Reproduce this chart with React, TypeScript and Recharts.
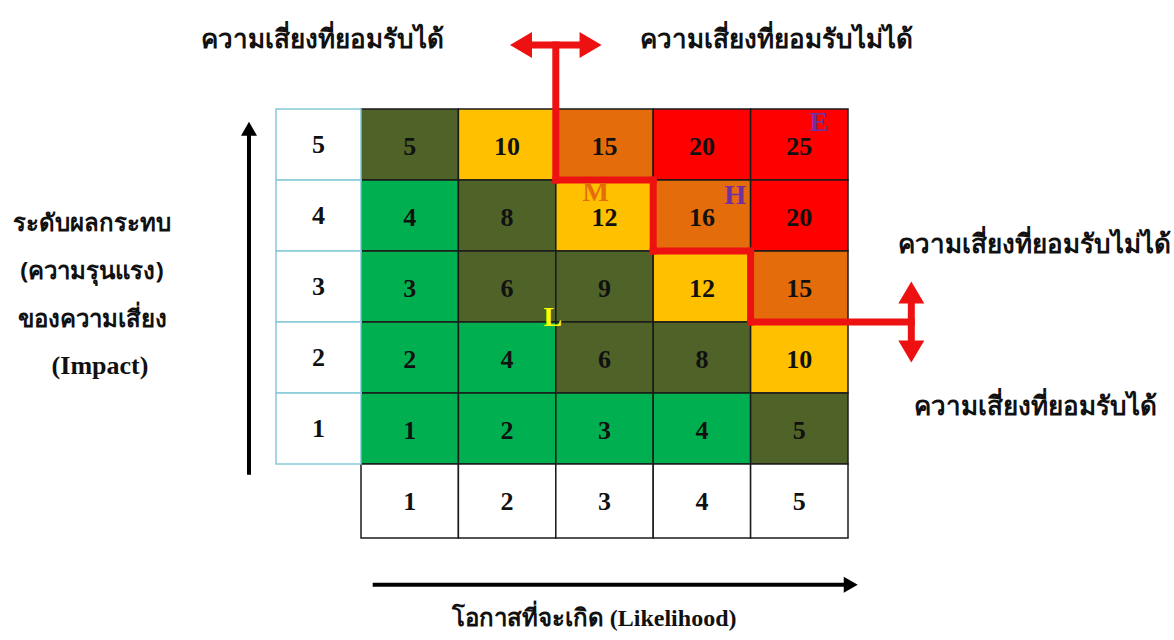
import React from "react";
import {
  ScatterChart,
  Scatter,
  XAxis,
  YAxis,
  ReferenceLine,
  ReferenceDot,
} from "recharts";

// axes of the matrix
const likelihood = [1, 2, 3, 4, 5];
const impact = [5, 4, 3, 2, 1];

// risk score per cell, one row per impact level (likelihood 1..5)
const scoreImpact5 = [5, 10, 15, 20, 25];
const scoreImpact4 = [4, 8, 12, 16, 20];
const scoreImpact3 = [3, 6, 9, 12, 15];
const scoreImpact2 = [2, 4, 6, 8, 10];
const scoreImpact1 = [1, 2, 3, 4, 5];

// risk zone per cell
const zoneImpact5 = ["moderate", "medium", "high", "extreme", "extreme"];
const zoneImpact4 = ["low", "moderate", "medium", "high", "extreme"];
const zoneImpact3 = ["low", "moderate", "moderate", "medium", "high"];
const zoneImpact2 = ["low", "low", "moderate", "moderate", "medium"];
const zoneImpact1 = ["low", "low", "low", "low", "moderate"];

// zone letters (Low, Medium, High, Extreme)
const zoneLetters = ["L", "M", "H", "E"];

// acceptable / unacceptable boundary, in (likelihood, impact) units
const boundaryX = [2.5, 2.5, 3.5, 3.5, 4.5, 4.5, 6.15];
const boundaryY = [6.4, 4.5, 4.5, 3.5, 3.5, 2.5, 2.5];

const scoreRows = [scoreImpact5, scoreImpact4, scoreImpact3, scoreImpact2, scoreImpact1];
const zoneRows = [zoneImpact5, zoneImpact4, zoneImpact3, zoneImpact2, zoneImpact1];

const cells = impact.flatMap((imp, r) =>
  likelihood.map((lik, c) => ({
    likelihood: lik,
    impact: imp,
    score: scoreRows[r][c],
    zone: zoneRows[r][c],
  }))
);

// layout / style
const W = 1174;
const H = 640;
const PLOT_LEFT = 361;
const PLOT_RIGHT = 848;
const PLOT_TOP = 109;
const PLOT_BOTTOM = 464;
const LABEL_W = 85;
const LABEL_H = 74;
const CELL_W = (PLOT_RIGHT - PLOT_LEFT) / 5;
const CELL_H = (PLOT_BOTTOM - PLOT_TOP) / 5;

const ZONE_FILL: Record<string, string> = {
  low: "#00B050",
  moderate: "#4F6228",
  medium: "#FFC000",
  high: "#E46C0A",
  extreme: "#FF0000",
};

const LETTER_STYLE: Record<string, { x: number; y: number; color: string }> = {
  L: { x: 2.47, y: 2.58, color: "#FFFF00" },
  M: { x: 2.91, y: 4.34, color: "#E46C0A" },
  H: { x: 4.34, y: 4.3, color: "#7030A0" },
  E: { x: 5.2, y: 5.32, color: "#7030A0" },
};

const RED = "#EE1111";
const SERIF = '"Liberation Serif", "DejaVu Serif", serif';
const THAI = '"Noto Sans", "DejaVu Sans", sans-serif';

const CellShape = (props: any) => {
  const { cx, cy, payload } = props;
  return (
    <g>
      <rect
        x={cx - CELL_W / 2}
        y={cy - CELL_H / 2}
        width={CELL_W}
        height={CELL_H}
        fill={ZONE_FILL[payload.zone]}
        stroke="#1b1b1b"
        strokeWidth={1.5}
      />
      <text
        x={cx}
        y={cy + 2}
        textAnchor="middle"
        dominantBaseline="central"
        fontFamily={SERIF}
        fontWeight="bold"
        fontSize={26}
        fill="#111"
      >
        {payload.score}
      </text>
    </g>
  );
};

const ImpactTick = (props: any) => {
  const { x, y, payload } = props;
  return (
    <g>
      <rect
        x={x - LABEL_W}
        y={y - CELL_H / 2}
        width={LABEL_W}
        height={CELL_H}
        fill="#fff"
        stroke="#86CAD8"
        strokeWidth={1.5}
      />
      <text
        x={x - LABEL_W / 2}
        y={y}
        textAnchor="middle"
        dominantBaseline="central"
        fontFamily={SERIF}
        fontWeight="bold"
        fontSize={26}
        fill="#111"
      >
        {payload.value}
      </text>
    </g>
  );
};

const LikelihoodTick = (props: any) => {
  const { x, y, payload } = props;
  return (
    <g>
      <rect
        x={x - CELL_W / 2}
        y={y}
        width={CELL_W}
        height={LABEL_H}
        fill="#fff"
        stroke="#1b1b1b"
        strokeWidth={1.5}
      />
      <text
        x={x}
        y={y + LABEL_H / 2}
        textAnchor="middle"
        dominantBaseline="central"
        fontFamily={SERIF}
        fontWeight="bold"
        fontSize={26}
        fill="#111"
      >
        {payload.value}
      </text>
    </g>
  );
};

// line with optional arrow heads at its ends
const arrowShape =
  (color: string, width: number, heads: "none" | "end" | "both", len = 22, half = 13, cap = "butt") =>
  (p: any) => {
    const { x1, y1, x2, y2 } = p;
    const dx = x2 - x1;
    const dy = y2 - y1;
    const d = Math.hypot(dx, dy) || 1;
    const ux = dx / d;
    const uy = dy / d;
    const head = (px: number, py: number, sx: number, sy: number) => {
      const bx = px - sx * len;
      const by = py - sy * len;
      return `${px},${py} ${bx - sy * half},${by + sx * half} ${bx + sy * half},${by - sx * half}`;
    };
    const startCut = heads === "both" ? len - 2 : 0;
    const endCut = heads !== "none" ? len - 2 : 0;
    return (
      <g>
        <line
          x1={x1 + ux * startCut}
          y1={y1 + uy * startCut}
          x2={x2 - ux * endCut}
          y2={y2 - uy * endCut}
          stroke={color}
          strokeWidth={width}
          strokeLinecap={cap as any}
        />
        {heads !== "none" && <polygon points={head(x2, y2, ux, uy)} fill={color} />}
        {heads === "both" && <polygon points={head(x1, y1, -ux, -uy)} fill={color} />}
      </g>
    );
  };

const LetterShape = (letter: string) => (p: any) => (
  <text
    x={p.cx}
    y={p.cy}
    textAnchor="middle"
    dominantBaseline="central"
    fontFamily={SERIF}
    fontWeight="bold"
    fontSize={28}
    fill={LETTER_STYLE[letter].color}
  >
    {letter}
  </text>
);

const textBox = (left: number, top: number, size: number, content: React.ReactNode, family = THAI) => (
  <div
    style={{
      position: "absolute",
      left,
      top,
      transform: "translate(-50%, -50%)",
      whiteSpace: "nowrap",
      fontFamily: family,
      fontWeight: "bold",
      fontSize: size,
      color: "#111",
    }}
  >
    {content}
  </div>
);

export default function App() {
  return (
    <div style={{ position: "absolute", left: 0, top: 0, width: W, height: H, background: "#fff" }}>
      <ScatterChart
        width={W}
        height={H}
        margin={{ top: PLOT_TOP, right: W - PLOT_RIGHT, bottom: H - PLOT_BOTTOM - LABEL_H, left: PLOT_LEFT - LABEL_W }}
      >
        <XAxis
          type="number"
          dataKey="likelihood"
          domain={[0.5, 5.5]}
          ticks={likelihood}
          height={LABEL_H}
          axisLine={false}
          tickLine={false}
          tickSize={0}
          tickMargin={0}
          interval={0}
          tick={<LikelihoodTick />}
        />
        <YAxis
          type="number"
          dataKey="impact"
          domain={[0.5, 5.5]}
          ticks={impact}
          width={LABEL_W}
          axisLine={false}
          tickLine={false}
          tickSize={0}
          tickMargin={0}
          interval={0}
          tick={<ImpactTick />}
        />
        <Scatter data={cells} isAnimationActive={false} shape={CellShape} />

        {boundaryX.slice(1).map((x, i) => (
          <ReferenceLine
            key={`b${i}`}
            zIndex={1500}
            segment={[
              { x: boundaryX[i], y: boundaryY[i] },
              { x, y: boundaryY[i + 1] },
            ]}
            ifOverflow="visible"
            shape={arrowShape(RED, 7, "none", 22, 13, "square")}
          />
        ))}
        <ReferenceLine
          zIndex={1500}
          segment={[
            { x: 2.03, y: 6.4 },
            { x: 2.97, y: 6.4 },
          ]}
          ifOverflow="visible"
          shape={arrowShape(RED, 7, "both")}
        />
        <ReferenceLine
          zIndex={1500}
          segment={[
            { x: 6.15, y: 3.07 },
            { x: 6.15, y: 1.93 },
          ]}
          ifOverflow="visible"
          shape={arrowShape(RED, 7, "both")}
        />
        <ReferenceLine
          segment={[
            { x: -0.65, y: 0.35 },
            { x: -0.65, y: 5.32 },
          ]}
          ifOverflow="visible"
          shape={arrowShape("#000", 4, "end", 14, 8)}
        />
        <ReferenceLine
          segment={[
            { x: 0.62, y: -1.2 },
            { x: 5.6, y: -1.2 },
          ]}
          ifOverflow="visible"
          shape={arrowShape("#000", 4, "end", 14, 8)}
        />
        {zoneLetters.map((l) => (
          <ReferenceDot
            key={l}
            zIndex={1600}
            x={LETTER_STYLE[l].x}
            y={LETTER_STYLE[l].y}
            r={0}
            ifOverflow="visible"
            shape={LetterShape(l)}
          />
        ))}
      </ScatterChart>

      {textBox(322, 38, 26, "ความเสี่ยงที่ยอมรับได้")}
      {textBox(776, 38, 26, "ความเสี่ยงที่ยอมรับไม่ได้")}
      {textBox(1034, 243, 26, "ความเสี่ยงที่ยอมรับไม่ได้")}
      {textBox(1035, 405, 26, "ความเสี่ยงที่ยอมรับได้")}
      {textBox(92, 222, 24, "ระดับผลกระทบ")}
      {textBox(92, 270, 24, "(ความรุนแรง)")}
      {textBox(92, 318, 24, "ของความเสี่ยง")}
      {textBox(100, 366, 26, "(Impact)", SERIF)}
      {textBox(
        594,
        617,
        24,
        <>
          โอกาสที่จะเกิด{" "}
          <span style={{ fontFamily: SERIF, fontSize: 24 }}>(Likelihood)</span>
        </>
      )}
    </div>
  );
}
